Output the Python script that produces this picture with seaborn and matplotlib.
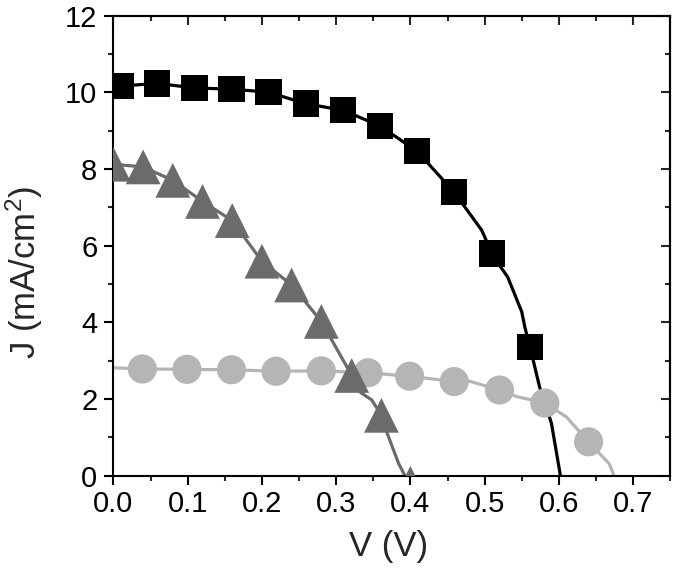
import numpy as np
import pandas as pd
import matplotlib
matplotlib.use("Agg")
import matplotlib.pyplot as plt
import seaborn as sns
from matplotlib.ticker import MultipleLocator, FormatStrFormatter

# marker data
sq_v = [0.010, 0.059, 0.109, 0.159, 0.209, 0.259, 0.309, 0.359, 0.409, 0.459, 0.510, 0.561]
sq_j = [10.16, 10.23, 10.11, 10.08, 10.00, 9.70, 9.53, 9.12, 8.46, 7.39, 5.79, 3.36]

tri_v = [0.000, 0.040, 0.080, 0.120, 0.160, 0.200, 0.240, 0.280, 0.321, 0.361, 0.400]
tri_j = [8.12, 8.05, 7.70, 7.15, 6.65, 5.59, 4.97, 4.02, 2.61, 1.57, -0.20]

cir_v = [0.039, 0.099, 0.159, 0.219, 0.280, 0.343, 0.399, 0.459, 0.520, 0.581, 0.640]
cir_j = [2.78, 2.77, 2.76, 2.72, 2.73, 2.68, 2.59, 2.45, 2.23, 1.89, 0.88]

# fitted curves through the markers, running out to the axes
sq_line_v = [0.0] + sq_v[:10] + [0.496, 0.510, 0.523, 0.531, 0.550, 0.554, 0.561, 0.574, 0.590, 0.602, 0.606]
sq_line_j = [10.18] + sq_j[:10] + [6.40, 5.79, 5.40, 5.18, 4.27, 3.88, 3.36, 2.31, 1.36, 0.0, -0.4]

tri_line_v = tri_v[:9] + [0.332, 0.348, 0.361, 0.368, 0.384, 0.3925, 0.396]
tri_line_j = tri_j[:9] + [2.18, 1.97, 1.57, 1.14, 0.32, 0.0, -0.2]

cir_line_v = [0.0] + cir_v[:8] + [0.480, 0.497, 0.520, 0.543, 0.581, 0.610, 0.640, 0.668, 0.674]
cir_line_j = [2.81] + cir_j[:8] + [2.46, 2.36, 2.23, 2.06, 1.89, 1.53, 0.88, 0.30, 0.0]

black = "#000000"
dark = "#6b6b6b"
light = "#b5b5b5"

sns.set_theme(style="ticks")
plt.rcParams["font.family"] = ["Liberation Sans", "DejaVu Sans"]
plt.rcParams["mathtext.fontset"] = "custom"
plt.rcParams["mathtext.rm"] = "Liberation Sans"
plt.rcParams["mathtext.it"] = "Liberation Sans"

fig = plt.figure(figsize=(6.75, 5.75), dpi=100)
ax = fig.add_axes([0.168, 0.173, 0.825, 0.800])

curves = [
    (sq_line_v, sq_line_j, black),
    (tri_line_v, tri_line_j, dark),
    (cir_line_v, cir_line_j, light),
]
for v, j, c in curves:
    df = pd.DataFrame({"V": v, "J": j})
    sns.lineplot(data=df, x="V", y="J", sort=False, color=c, lw=2.3, ax=ax, zorder=2)

points = [
    (cir_v, cir_j, light, "o", 21),
    (tri_v, tri_j, dark, "^", 25),
    (sq_v, sq_j, black, "s", 19),
]
for v, j, c, m, ms in points:
    df = pd.DataFrame({"V": v, "J": j})
    sns.scatterplot(data=df, x="V", y="J", marker=m, s=ms ** 2, color=c,
                    edgecolor="none", linewidth=0, ax=ax, zorder=3, clip_on=True)

ax.set_xlim(0, 0.75)
ax.set_ylim(0, 12)
ax.xaxis.set_major_locator(MultipleLocator(0.1))
ax.xaxis.set_minor_locator(MultipleLocator(0.05))
ax.yaxis.set_major_locator(MultipleLocator(2))
ax.yaxis.set_minor_locator(MultipleLocator(1))
ax.xaxis.set_major_formatter(FormatStrFormatter("%.1f"))

for s in ax.spines.values():
    s.set_linewidth(1.5)
    s.set_color("black")
ax.tick_params(which="major", direction="out", length=6.5, width=1.5, labelsize=21, colors="black")
ax.tick_params(axis="x", which="major", pad=4)
ax.tick_params(axis="y", which="major", pad=5)
ax.tick_params(which="minor", direction="out", length=3.6, width=1.5)

# mirrored ticks on top and right, pointing inward
top = ax.secondary_xaxis("top")
top.xaxis.set_major_locator(MultipleLocator(0.1))
top.xaxis.set_minor_locator(MultipleLocator(0.05))
top.tick_params(which="major", direction="in", length=6.5, width=1.5, labeltop=False)
top.tick_params(which="minor", direction="in", length=3.6, width=1.5)
right = ax.secondary_yaxis("right")
right.yaxis.set_major_locator(MultipleLocator(2))
right.yaxis.set_minor_locator(MultipleLocator(1))
right.tick_params(which="major", direction="in", length=6.5, width=1.5, labelright=False)
right.tick_params(which="minor", direction="in", length=3.6, width=1.5)
for sec in (top, right):
    for s in sec.spines.values():
        s.set_linewidth(1.5)

ax.set_xlabel("V (V)", fontsize=25)
ax.set_ylabel(r"J (mA/cm$^2$)", fontsize=25)
ax.xaxis.set_label_coords(0.494, -0.118)
ax.yaxis.set_label_coords(-0.122, 0.441)

fig.savefig("out.png", dpi=100)
